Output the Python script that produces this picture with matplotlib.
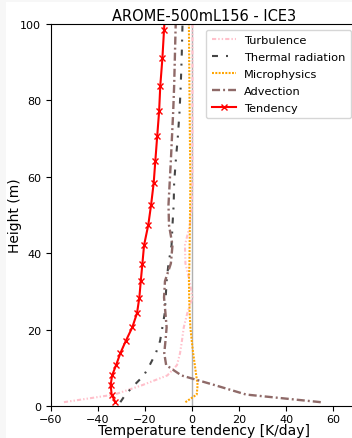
import numpy as np
import matplotlib
matplotlib.use('Agg')
import matplotlib.pyplot as plt
from matplotlib.patches import Rectangle

plt.rcParams['lines.scale_dashes'] = False

# model levels (m) and heating rates (K/day)
height = [1.0, 3.0, 5.5, 8.0, 10.7, 13.8, 17.0, 20.6, 24.3, 28.4, 32.7, 37.3,
          42.1, 47.4, 52.7, 58.4, 64.2, 70.7, 77.1, 83.8, 91.0, 98.5, 106.5]
turbulence = [-54.5, -33.0, -21.0, -10.5, -6.4, -5.1, -4.3, -3.5, -2.0, 0.2, -1.0, -2.8,
              -3.0, -0.9, 0.0, 0.2, 0.2, 0.2, 0.2, 0.2, 0.2, 0.2, 0.2]
radiation = [-30.5, -28.3, -24.5, -20.5, -18.0, -15.4, -13.6, -12.6, -11.6, -11.2, -10.8, -10.0,
             -8.7, -8.3, -7.8, -7.6, -6.9, -6.0, -5.3, -4.8, -4.4, -4.1, -3.8]
microphysics = [-2.8, 2.0, 2.4, 1.8, 1.2, 0.5, -0.1, -0.7, -1.0, -1.2, -1.3, -1.1,
                -1.0, -0.9, -0.8, -0.7, -0.8, -0.9, -1.0, -1.1, -1.2, -1.3, -1.4]
advection = [54.8, 23.0, 9.5, -4.5, -11.0, -11.8, -11.3, -10.8, -11.3, -11.9, -11.5, -9.0,
             -8.3, -9.8, -10.0, -9.5, -9.0, -8.5, -8.0, -7.6, -7.3, -7.0, -6.6]
tendency = [-32.6, -34.2, -34.6, -34.0, -32.3, -30.5, -28.2, -25.4, -23.4, -22.4, -21.8, -21.1,
            -20.4, -18.6, -17.4, -16.3, -15.6, -14.8, -14.0, -13.5, -12.6, -11.9, -11.2]

fig = plt.figure(figsize=(3.52, 4.39), dpi=100, facecolor='#f7f7f7')
# white canvas of the screenshot, light margin on left/top
fig.patches.append(Rectangle((6 / 352, 0), 1, 1 - 3 / 439, transform=fig.transFigure,
                             facecolor='white', edgecolor='none', zorder=-10))

ax = fig.add_axes([51 / 352, 32 / 439, 305.5 / 352, 382 / 439])
ax.axvline(0, color='#b0b0b0', lw=1, zorder=1)

ax.plot(turbulence, height, color='pink', lw=1.5, dashes=[3, 1.5, 1, 1.5, 1, 1.5], label='Turbulence')
ax.plot(radiation, height, color='#454545', lw=1.5, dashes=[4.3, 5.8, 1.4, 5.8], label='Thermal radiation')
ax.plot(microphysics, height, color='orange', lw=1.5, dashes=[1.4, 1.0], label='Microphysics')
ax.plot(advection, height, color='#8f6a68', lw=1.7, dashes=[5.8, 2.2, 1.4, 2.2], label='Advection')
ax.plot(tendency, height, color='red', lw=1.5, marker='x', ms=5, label='Tendency')

ax.set_xlim(-60, 70)
ax.set_ylim(0, 100)
ax.set_xticks([-60, -40, -20, 0, 20, 40, 60])
ax.set_yticks([0, 20, 40, 60, 80, 100])
ax.tick_params(labelsize=8)
ax.tick_params(axis='x', pad=2.5)
ax.set_xlabel('Temperature tendency [K/day]', fontsize=10, labelpad=-1)
ax.set_ylabel('Height (m)', fontsize=10, labelpad=-1.5)
ax.set_title('AROME-500mL156 - ICE3', fontsize=10.5, pad=3)
ax.legend(loc='upper right', fontsize=8.2, handlelength=2.1, labelspacing=0.6,
          borderaxespad=0.5, borderpad=0.5, handletextpad=0.7)

fig.savefig('out.png', dpi=100, facecolor=fig.get_facecolor())
